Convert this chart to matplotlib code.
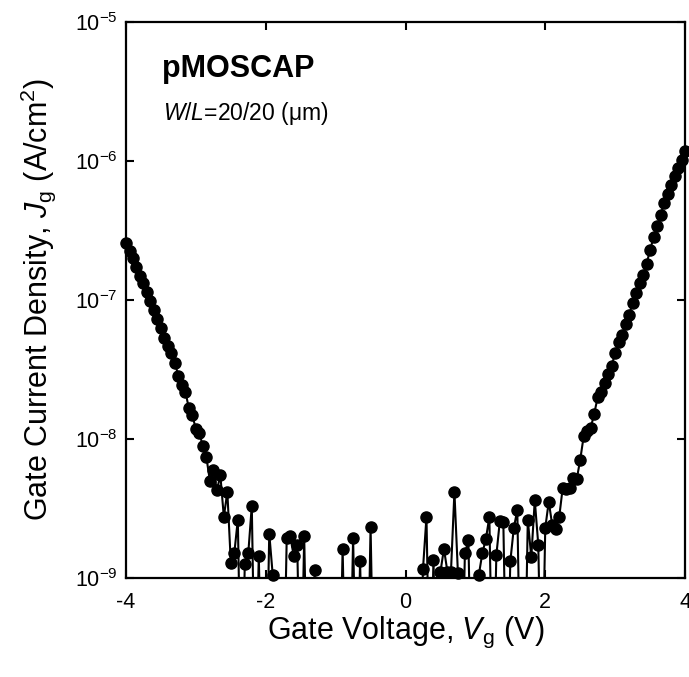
import matplotlib
matplotlib.use('Agg')
import matplotlib.pyplot as plt
from matplotlib.ticker import NullLocator, FixedLocator
import numpy as np

plt.rcParams['font.family'] = ['Liberation Sans', 'DejaVu Sans']
plt.rcParams['mathtext.fontset'] = 'custom'
plt.rcParams['mathtext.rm'] = 'Liberation Sans'
plt.rcParams['mathtext.it'] = 'Liberation Sans:italic'
plt.rcParams['mathtext.bf'] = 'Liberation Sans:bold'
plt.rcParams['axes.unicode_minus'] = False

# gate voltage sweep, -4 V .. 4 V in 0.05 V steps
vg = np.linspace(-4.0, 4.0, 161)

# log10 of gate current density (A/cm2)
# B = below the 1e-9 floor of the plot
B = -10.0
log_jg = [
    -6.59, -6.65, -6.70, -6.76, -6.83, -6.88, -6.94, -7.01, -7.07, -7.14,   # -4.00
    -7.20, -7.27, -7.33, -7.38, -7.45, -7.55, -7.61, -7.66, -7.78, -7.83,   # -3.50
    -7.93, -7.96, -8.05, -8.13, -8.30, -8.22, -8.37, -8.26, -8.56, -8.38,   # -3.00
    -8.89, -8.82, -8.58, B, -8.90, -8.82, -8.48, B, -8.84, B,               # -2.50
    B, -8.68, -8.98, B, B, B, -8.71, -8.70, -8.84, -8.76,                   # -2.00
    B, -8.70, B, B, -8.94, B, B, B, B, B,                                   # -1.50
    B, B, -8.79, B, B, -8.71, B, -8.88, B, B,                               # -1.00
    -8.63, B, B, B, B, B, B, B, B, B,                                       # -0.50
    B, B, B, B, B, -8.935, -8.56, B, -8.87, B,                              # 0.00
    -8.955, -8.79, -8.955, -8.96, -8.38, -8.965, B, -8.82, -8.73, B,        # 0.50
    B, -8.975, -8.82, -8.72, -8.56, B, -8.835, -8.59, -8.60, B,             # 1.00
    -8.88, -8.64, -8.51, B, B, -8.58, -8.85, -8.44, -8.76, B,               # 1.50
    -8.64, -8.45, -8.62, -8.65, -8.56, -8.35, -8.36, -8.35, -8.28, -8.29,   # 2.00
    -8.15, -7.98, -7.94, -7.92, -7.82, -7.70, -7.66, -7.60, -7.535, -7.475, # 2.50
    -7.38, -7.30, -7.25, -7.17, -7.11, -7.02, -6.95, -6.875, -6.82, -6.74,  # 3.00
    -6.64, -6.55, -6.47, -6.39, -6.305, -6.24, -6.17, -6.11, -6.05, -5.99,  # 3.50
    -5.93,                                                                  # 4.00
]
jg = 10.0 ** np.array(log_jg)

fig = plt.figure(figsize=(6.89, 6.77), dpi=100)
ax = fig.add_axes([0.1829, 0.1462, 0.8113, 0.8213])

ax.plot(vg, jg, '-', color='black', lw=1.5)
shown = jg >= 1e-9
ax.plot(vg[shown], jg[shown], 'o', color='black', ms=8, clip_on=False)

ax.set_yscale('log')
ax.set_xlim(-4, 4)
ax.set_ylim(1e-9, 1e-5)
ax.xaxis.set_major_locator(FixedLocator([-4, -2, 0, 2, 4]))
ax.yaxis.set_minor_locator(NullLocator())
ax.xaxis.set_minor_locator(NullLocator())
ax.tick_params(which='both', direction='in', top=True, right=True,
               length=6, width=1.5, labelsize=15.5)
ax.tick_params(axis='x', pad=10)
ax.tick_params(axis='y', pad=6)
for s in ax.spines.values():
    s.set_linewidth(1.6)

ax.set_xlabel(r'Gate Voltage, $\mathit{V}_{\mathrm{g}}$ (V)', fontsize=22, labelpad=1)
ax.set_ylabel(r'Gate Current Density, $\mathit{J}_{\mathrm{g}}$ (A/cm$^{2}$)', fontsize=22, labelpad=12)

ax.text(0.064, 0.901, 'pMOSCAP', transform=ax.transAxes, fontsize=22,
        fontweight='bold', va='baseline')
ax.text(0.066, 0.824, r'$\mathit{W/L}$=20/20 (μm)', transform=ax.transAxes,
        fontsize=16.5, va='baseline')

fig.savefig('out.png', dpi=100)
